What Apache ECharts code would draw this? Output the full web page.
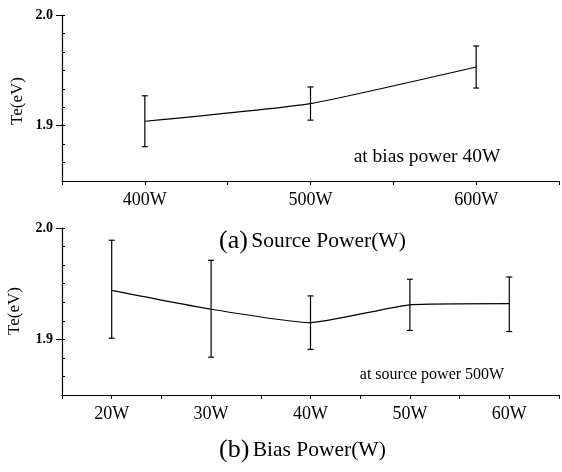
<!DOCTYPE html>
<html>
<head>
<meta charset="utf-8">
<script src="https://cdn.jsdelivr.net/npm/echarts@6/dist/echarts.min.js"></script>
<style>
  html, body { margin: 0; padding: 0; background: #fff; }
  #main { width: 562px; height: 472px; }
</style>
</head>
<body>
<div id="main"></div>
<script>
// (a) Te vs source power, bias power 40W
var sourcePower = [400, 500, 600];
var teSource = [1.904, 1.920, 1.953];
var teSourceLow = [1.881, 1.905, 1.934];
var teSourceHigh = [1.927, 1.935, 1.972];

// (b) Te vs bias power, source power 500W
var biasPower = [20, 30, 40, 50, 60];
var teBias = [1.944, 1.927, 1.915, 1.931, 1.932];
var teBiasLow = [1.901, 1.884, 1.891, 1.908, 1.907];
var teBiasHigh = [1.989, 1.971, 1.939, 1.954, 1.956];

var yLabels = [1.9, 2.0];

var FONT = 'Liberation Serif';

// inner minor ticks on the Te axis, 6 per 0.1
var minorTicks = [];
for (var i = 0; i <= 9; i++) minorTicks.push(+(1.85 + i / 60).toFixed(5));

function pairs(xs, ys) {
  return xs.map(function (x, i) { return [x, ys[i]]; });
}
function bars(xs, lo, hi) {
  return xs.map(function (x, i) { return [x, lo[i], hi[i]]; });
}

function renderErr(params, api) {
  var x = api.value(0);
  var p1 = api.coord([x, api.value(1)]);
  var p2 = api.coord([x, api.value(2)]);
  var w = 3;
  var st = { stroke: '#000', lineWidth: 1.2 };
  return {
    type: 'group',
    children: [
      { type: 'line', shape: { x1: p1[0], y1: p1[1], x2: p2[0], y2: p2[1] }, style: st },
      { type: 'line', shape: { x1: p1[0] - w, y1: p1[1], x2: p1[0] + w, y2: p1[1] }, style: st },
      { type: 'line', shape: { x1: p2[0] - w, y1: p2[1], x2: p2[0] + w, y2: p2[1] }, style: st }
    ]
  };
}

function xAxisFor(grid, min, max, step, labelStep) {
  return {
    type: 'value', gridIndex: grid, min: min, max: max, interval: step,
    axisLine: { lineStyle: { color: '#000', width: 1.2 } },
    axisTick: { length: 4, lineStyle: { color: '#000' } },
    splitLine: { show: false },
    axisLabel: {
      color: '#000', fontFamily: FONT, fontSize: 18, margin: 10,
      formatter: function (v) { return v % labelStep === 0 && v > min && v < max ? v + 'W' : ''; }
    }
  };
}

function yAxesFor(grid) {
  return [{
    type: 'value', gridIndex: grid, min: 1.85, max: 2.0, position: 'left',
    axisLine: { show: true, lineStyle: { color: '#000', width: 1.2 } },
    axisTick: { show: true, length: 6, customValues: yLabels, lineStyle: { color: '#000' } },
    splitLine: { show: false },
    axisLabel: {
      color: '#000', fontFamily: FONT, fontSize: 14, fontWeight: 'bold', margin: 9,
      customValues: yLabels,
      formatter: function (v) { return v.toFixed(1); }
    }
  }, {
    type: 'value', gridIndex: grid, min: 1.85, max: 2.0, position: 'left',
    axisLine: { show: false },
    axisTick: { show: true, inside: true, length: 3, customValues: minorTicks, lineStyle: { color: '#000' } },
    axisLabel: { show: false },
    splitLine: { show: false }
  }];
}

var chart = echarts.init(document.getElementById('main'));
chart.setOption({
  animation: false,
  backgroundColor: '#fff',
  grid: [
    { left: 62, right: 0, top: 15, height: 166 },
    { left: 62, right: 0, top: 228, height: 167 }
  ],
  xAxis: [
    xAxisFor(0, 350, 650, 50, 100),
    xAxisFor(1, 15, 65, 5, 10)
  ],
  yAxis: yAxesFor(0).concat(yAxesFor(1)),
  series: [
    {
      type: 'line', xAxisIndex: 0, yAxisIndex: 0, data: pairs(sourcePower, teSource),
      symbol: 'none', smooth: 0.15, lineStyle: { color: '#000', width: 1.2 }
    },
    {
      type: 'custom', xAxisIndex: 0, yAxisIndex: 0, data: bars(sourcePower, teSourceLow, teSourceHigh),
      renderItem: renderErr
    },
    {
      type: 'line', xAxisIndex: 1, yAxisIndex: 2, data: pairs(biasPower, teBias),
      symbol: 'none', smooth: 0.15, lineStyle: { color: '#000', width: 1.2 }
    },
    {
      type: 'custom', xAxisIndex: 1, yAxisIndex: 2, data: bars(biasPower, teBiasLow, teBiasHigh),
      renderItem: renderErr
    }
  ],
  graphic: [
    { type: 'text', x: 18, y: 101, rotation: Math.PI / 2,
      style: { text: 'Te(eV)', font: '17px "Liberation Serif"', fill: '#000', align: 'center', verticalAlign: 'middle' } },
    { type: 'text', x: 15, y: 311, rotation: Math.PI / 2,
      style: { text: 'Te(eV)', font: '17px "Liberation Serif"', fill: '#000', align: 'center', verticalAlign: 'middle' } },
    { type: 'text', x: 427, y: 157,
      style: { text: 'at bias power 40W', font: '19.5px "Liberation Serif"', fill: '#000', align: 'center', verticalAlign: 'middle' } },
    { type: 'text', x: 432, y: 375,
      style: { text: 'at source power 500W', font: '16px "Liberation Serif"', fill: '#000', align: 'center', verticalAlign: 'middle' } },
    { type: 'text', x: 219, y: 241,
      style: {
        text: '{p|(a)} {t|Source Power(W)}', fill: '#000', align: 'left', verticalAlign: 'middle',
        rich: { p: { fontFamily: FONT, fontSize: 26 }, t: { fontFamily: FONT, fontSize: 21.5 } }
      } },
    { type: 'text', x: 219, y: 450,
      style: {
        text: '{p|(b)} {t|Bias Power(W)}', fill: '#000', align: 'left', verticalAlign: 'middle',
        rich: { p: { fontFamily: FONT, fontSize: 26 }, t: { fontFamily: FONT, fontSize: 21.5 } }
      } }
  ]
});
</script>
</body>
</html>
